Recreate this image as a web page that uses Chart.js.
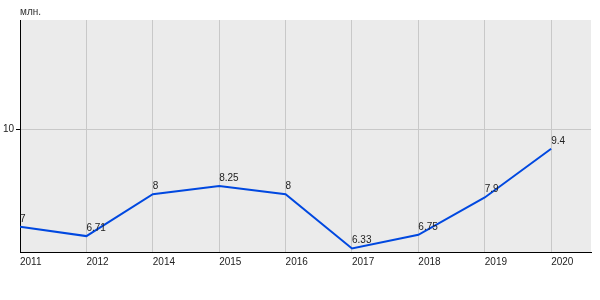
<!DOCTYPE html>
<html>
<head>
<meta charset="utf-8">
<script src="https://cdn.jsdelivr.net/npm/chart.js@4/dist/chart.umd.min.js"></script>
<style>
  body { margin: 0; background: #fff; }
</style>
</head>
<body>
<canvas id="myChart" width="600" height="300"></canvas>
<script>
const years = ['2011', '2012', '2014', '2015', '2016', '2017', '2018', '2019', '2020'];
const values = [7, 6.71, 8, 8.25, 8, 6.33, 6.75, 7.9, 9.4];
const pointLabels = ['7', '6.71', '8', '8.25', '8', '6.33', '6.75', '7.9', '9.4'];
const yTicks = [10];
const unitLabel = 'млн.';

const FONT = '"Liberation Sans", Arial, sans-serif';

// grey plot background + unit caption
const plotBg = {
    id: 'plotBg',
    beforeDraw(chart) {
        const { ctx, chartArea: a } = chart;
        ctx.save();
        ctx.fillStyle = '#ebebeb';
        ctx.fillRect(a.left, a.top, a.right - a.left, a.bottom - a.top);
        ctx.fillStyle = '#333';
        ctx.font = '10px ' + FONT;
        ctx.textBaseline = 'alphabetic';
        ctx.fillText(unitLabel, a.left, 15);
        ctx.restore();
    }
};

// value labels above each point
const valueLabels = {
    id: 'valueLabels',
    afterDatasetsDraw(chart) {
        const { ctx } = chart;
        const meta = chart.getDatasetMeta(0);
        ctx.save();
        ctx.fillStyle = '#222';
        ctx.font = '10px ' + FONT;
        ctx.textAlign = 'left';
        ctx.textBaseline = 'alphabetic';
        meta.data.forEach((p, i) => {
            ctx.fillText(pointLabels[i], p.x, p.y - 5);
        });
        ctx.restore();
    }
};

const ctx = document.getElementById('myChart').getContext('2d');
new Chart(ctx, {
    type: 'line',
    data: {
        datasets: [{
            data: years.map((y, i) => ({ x: i, y: values[i] })),
            borderColor: '#0048e0',
            borderWidth: 2,
            pointRadius: 0,
            tension: 0,
            fill: false,
        }]
    },
    options: {
        responsive: false,
        animation: false,
        layout: { padding: { top: 20, right: 9, left: 0, bottom: 0 } },
        scales: {
            x: {
                type: 'linear',
                min: 0,
                max: 8.6,
                afterBuildTicks: (s) => { s.ticks = years.map((_, i) => ({ value: i })); },
                afterFit: (s) => { s.height = 48; },
                grid: { color: '#c8c8c8', lineWidth: 1, drawTicks: false },
                border: { color: '#000', width: 1 },
                ticks: {
                    autoSkip: false,
                    maxRotation: 0,
                    align: 'start',
                    padding: 4,
                    color: '#222',
                    font: { family: FONT, size: 10 },
                    callback: (v) => years[v],
                },
            },
            y: {
                min: 6.22,
                max: 13.37,
                afterBuildTicks: (s) => { s.ticks = yTicks.map(v => ({ value: v })); },
                afterFit: (s) => { s.width = 20; },
                grid: { color: '#c8c8c8', lineWidth: 1, drawTicks: true, tickLength: 4, tickColor: '#000' },
                border: { color: '#000', width: 1 },
                ticks: {
                    padding: 2,
                    color: '#222',
                    font: { family: FONT, size: 10 },
                },
            }
        },
        plugins: {
            legend: { display: false },
            tooltip: { enabled: false },
        }
    },
    plugins: [plotBg, valueLabels]
});
</script>
</body>
</html>
